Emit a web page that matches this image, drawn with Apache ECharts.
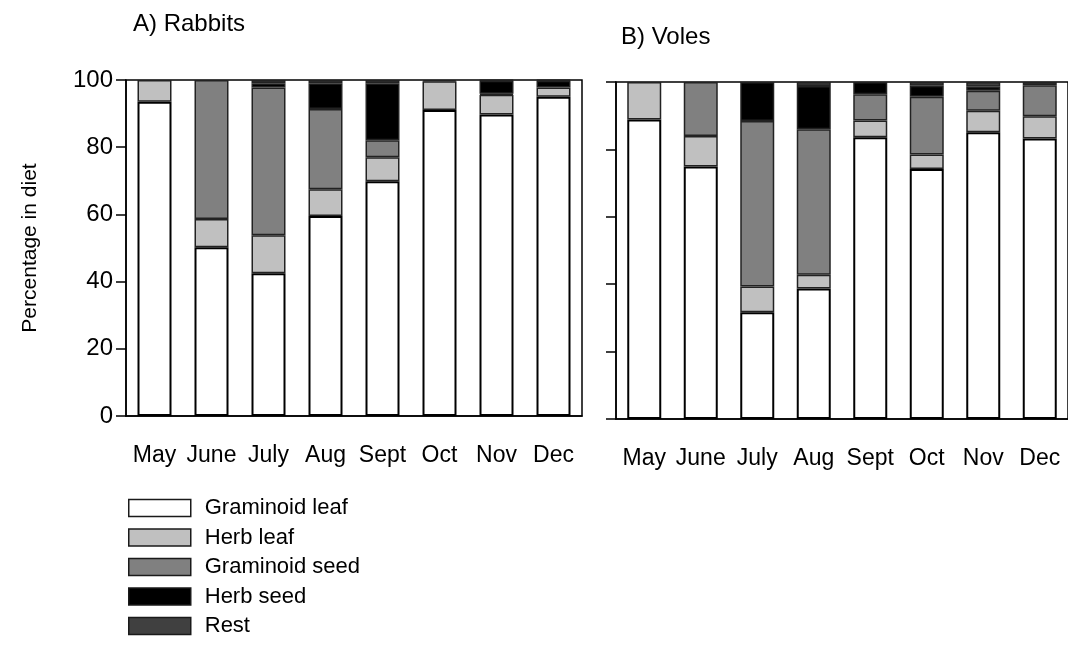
<!DOCTYPE html>
<html>
<head>
<meta charset="utf-8">
<script src="https://cdn.jsdelivr.net/npm/echarts@6/dist/echarts.min.js"></script>
<style>
  html, body { margin: 0; padding: 0; background: #fff; }
  #chart { width: 1068px; height: 655px; }
</style>
</head>
<body>
<div id="chart"></div>
<script>
// Months sampled
const months = ['May', 'June', 'July', 'Aug', 'Sept', 'Oct', 'Nov', 'Dec'];
const yTicks = [0, 20, 40, 60, 80, 100];

// Diet categories (stack order, bottom to top)
const categories = ['Graminoid leaf', 'Herb leaf', 'Graminoid seed', 'Herb seed', 'Rest'];

// A) Rabbits – percentage in diet
const rabbitGraminoidLeaf = [93.5, 50.2, 42.5, 59.5, 69.9, 91.1, 89.7, 95.0];
const rabbitHerbLeaf      = [6.5, 8.4, 11.3, 8.0, 7.1, 8.5, 5.9, 2.8];
const rabbitGraminoidSeed = [0, 41.4, 44.0, 23.9, 5.1, 0, 0.3, 0];
const rabbitHerbSeed      = [0, 0, 1.2, 7.6, 16.9, 0, 3.9, 2.0];
const rabbitRest          = [0, 0, 1.0, 1.0, 1.0, 0.4, 0.2, 0.2];

// B) Voles – percentage in diet
const voleGraminoidLeaf = [88.9, 74.9, 31.7, 38.7, 83.6, 74.2, 85.1, 83.2];
const voleHerbLeaf      = [11.1, 9.1, 7.6, 4.1, 5.0, 4.3, 6.4, 6.6];
const voleGraminoidSeed = [0, 16.0, 49.1, 43.2, 7.8, 17.1, 5.9, 9.2];
const voleHerbSeed      = [0, 0, 11.6, 12.8, 3.6, 3.3, 1.2, 0];
const voleRest          = [0, 0, 0, 1.2, 0, 1.1, 1.4, 1.0];

const fills = ['#ffffff', '#c0c0c0', '#808080', '#000000', '#404040'];
const FONT = 'Liberation Sans, Arial, Helvetica, sans-serif';

const rabbitSets = [rabbitGraminoidLeaf, rabbitHerbLeaf, rabbitGraminoidSeed, rabbitHerbSeed, rabbitRest];
const voleSets = [voleGraminoidLeaf, voleHerbLeaf, voleGraminoidSeed, voleHerbSeed, voleRest];

// zero shares are left out so no empty segment outline is drawn
const clean = arr => arr.map(v => (v === 0 ? '-' : v));

function makeSeries(sets, idx, stackId) {
  return sets.map((vals, i) => ({
    name: categories[i],
    type: 'bar',
    stack: stackId,
    xAxisIndex: idx,
    yAxisIndex: idx,
    barWidth: 34,
    data: clean(vals),
    itemStyle: {
      color: fills[i],
      borderColor: i === 0 ? '#000' : '#222',
      borderWidth: i === 0 ? 2 : 1.5
    },
    emphasis: { disabled: true }
  }));
}

function xAxisFor(gridIndex) {
  return {
    type: 'category',
    gridIndex: gridIndex,
    data: months,
    axisLine: { lineStyle: { color: '#000', width: 1.5 } },
    axisTick: { alignWithLabel: true, length: 9, lineStyle: { color: '#000', width: 1.5 } },
    axisLabel: { color: '#000', fontSize: 23, fontFamily: FONT, margin: 28, interval: 0 },
    splitLine: { show: false }
  };
}

function yAxisFor(gridIndex, showLabels) {
  return {
    type: 'value',
    gridIndex: gridIndex,
    min: yTicks[0],
    max: yTicks[yTicks.length - 1],
    interval: yTicks[1] - yTicks[0],
    axisLine: { show: true, lineStyle: { color: '#000', width: 1.5 } },
    axisTick: { show: true, length: 10, lineStyle: { color: '#000', width: 1.5 } },
    axisLabel: { show: showLabels, color: '#000', fontSize: 24, fontFamily: FONT, margin: 13 },
    splitLine: { show: false }
  };
}

const chart = echarts.init(document.getElementById('chart'), null, { renderer: 'canvas' });

chart.setOption({
  backgroundColor: '#fff',
  animation: false,
  textStyle: { fontFamily: FONT, color: '#000' },
  title: [
    { text: 'A) Rabbits', left: 128, top: 7, textStyle: { fontSize: 24, fontWeight: 'normal', color: '#000', fontFamily: FONT } },
    { text: 'B) Voles', left: 616, top: 20, textStyle: { fontSize: 24, fontWeight: 'normal', color: '#000', fontFamily: FONT } }
  ],
  legend: {
    data: categories,
    orient: 'vertical',
    left: 128,
    top: 497,
    padding: 0,
    icon: 'rect',
    itemWidth: 62,
    itemHeight: 17,
    itemGap: 7.5,
    selectedMode: false,
    itemStyle: { borderColor: '#1a1a1a', borderWidth: 1.5 },
    textStyle: { fontSize: 22, color: '#000', fontFamily: FONT, padding: [0, 0, 0, 9] }
  },
  grid: [
    { left: 126, top: 80, width: 456, height: 336, show: true, borderColor: '#000', borderWidth: 1.5, backgroundColor: 'transparent' },
    { left: 616, top: 82, width: 456, height: 337, show: true, borderColor: '#000', borderWidth: 1.5, backgroundColor: 'transparent' }
  ],
  xAxis: [xAxisFor(0), xAxisFor(1)],
  yAxis: [yAxisFor(0, true), yAxisFor(1, false)],
  graphic: [{
    type: 'text',
    x: 30,
    y: 248,
    rotation: Math.PI / 2,
    style: {
      text: 'Percentage in diet',
      fill: '#000',
      fontSize: 21,
      fontFamily: FONT,
      textAlign: 'center',
      textVerticalAlign: 'middle'
    }
  }],
  series: makeSeries(rabbitSets, 0, 'rabbits').concat(makeSeries(voleSets, 1, 'voles'))
});
</script>
</body>
</html>
